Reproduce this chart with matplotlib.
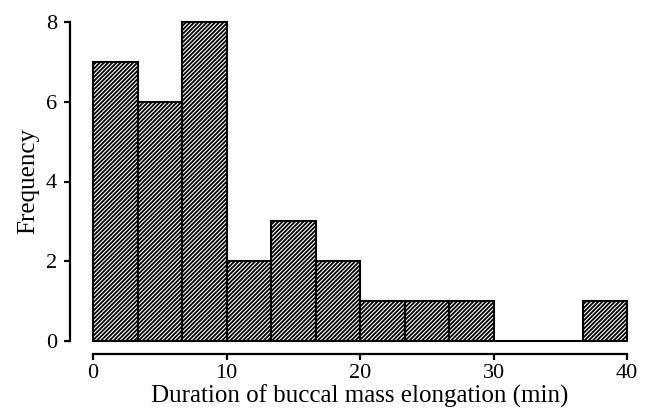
import matplotlib
matplotlib.use("Agg")
import matplotlib.pyplot as plt
import numpy as np

bin_edges = [0, 10/3, 20/3, 10, 40/3, 50/3, 20, 70/3, 80/3, 30, 100/3, 110/3, 40]
counts = [7, 6, 8, 2, 3, 2, 1, 1, 1, 0, 0, 1]
xticks = [0, 10, 20, 30, 40]
yticks = [0, 2, 4, 6, 8]

plt.rcParams['font.family'] = ['Liberation Serif', 'DejaVu Serif']
plt.rcParams['hatch.linewidth'] = 1.3

fig = plt.figure(figsize=(6.46, 4.12), dpi=100)
ax = fig.add_axes([93/646, 71/412, 534/646, 319/412])

lefts = np.array(bin_edges[:-1])
widths = np.diff(bin_edges)
ax.bar(lefts, counts, width=widths, align='edge', facecolor='white',
       edgecolor='black', linewidth=1.5, hatch='////////')

ax.set_xlim(0, 40)
ax.set_ylim(0, 8)
ax.set_xticks(xticks)
ax.set_yticks(yticks)
for s in ['top', 'right']:
    ax.spines[s].set_visible(False)
ax.spines['left'].set_position(('outward', 16.5))
ax.spines['bottom'].set_position(('outward', 9.4))
ax.spines['left'].set_linewidth(1.6)
ax.spines['bottom'].set_linewidth(1.6)
ax.tick_params(width=1.6, length=4, labelsize=16)
ax.tick_params(axis='y', pad=5.5)
ax.set_xlabel('Duration of buccal mass elongation (min)', fontsize=18, labelpad=1)
ax.set_ylabel('Frequency', fontsize=18, labelpad=5)
for b in ax.patches:
    b.set_clip_on(False)

fig.savefig('out.png', dpi=100)
